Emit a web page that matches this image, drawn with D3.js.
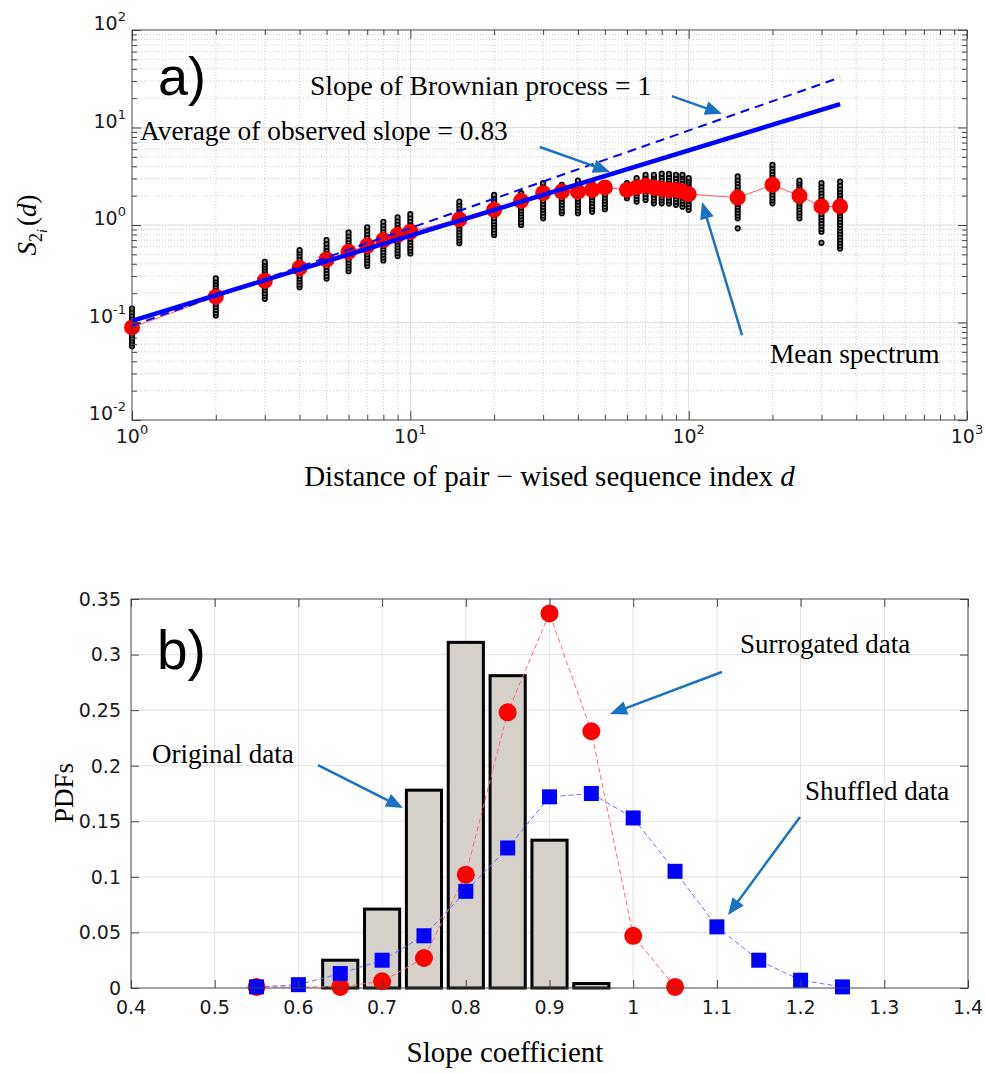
<!DOCTYPE html>
<html>
<head>
<meta charset="utf-8">
<script src="https://cdn.jsdelivr.net/npm/d3@7"></script>
<style>
body { margin: 0; background: #fff; }
</style>
</head>
<body>
<div id="chart"></div>
<script>
var width = 985,
    height = 1074;

// ---- panel a) structure function vs lag ----
var lags = [1, 2, 3, 4, 5, 6, 7, 8, 9, 10, 15, 20, 25, 30, 35, 40, 45, 50,
            60, 65, 70, 75, 80, 85, 90, 95, 100, 150, 200, 250, 300, 350];
var meanS2 = [0.089, 0.184, 0.268, 0.363, 0.443, 0.531, 0.612, 0.70, 0.79, 0.853, 1.14, 1.43,
              1.77, 2.12, 2.20, 2.20, 2.29, 2.43, 2.29, 2.43, 2.52, 2.43, 2.33, 2.29, 2.29, 2.2,
              2.07, 1.91, 2.58, 1.99, 1.55, 1.55];
// individual sequences, one column per lag
var samples = [
  [0.057,0.061,0.065,0.069,0.074,0.079,0.084,0.09,0.096,0.103,0.11,0.118,0.128,0.139],
  [0.118,0.126,0.135,0.145,0.155,0.166,0.178,0.19,0.204,0.218,0.234,0.25,0.266,0.284],
  [0.175,0.188,0.2,0.215,0.23,0.246,0.263,0.282,0.3,0.322,0.345,0.368,0.393,0.419],
  [0.23,0.246,0.264,0.282,0.302,0.323,0.346,0.37,0.396,0.424,0.454,0.486,0.52,0.552],
  [0.282,0.302,0.324,0.347,0.372,0.398,0.426,0.457,0.49,0.524,0.561,0.6,0.645,0.7],
  [0.336,0.36,0.386,0.413,0.443,0.475,0.508,0.545,0.584,0.625,0.67,0.72,0.775,0.84],
  [0.38,0.407,0.437,0.468,0.5,0.537,0.575,0.617,0.66,0.708,0.76,0.815,0.875,0.947],
  [0.433,0.464,0.497,0.533,0.571,0.612,0.656,0.703,0.753,0.807,0.865,0.93,1.0,1.08],
  [0.48,0.515,0.552,0.591,0.634,0.679,0.728,0.78,0.836,0.896,0.96,1.03,1.11,1.2],
  [0.51,0.547,0.586,0.628,0.673,0.721,0.773,0.828,0.888,0.951,1.02,1.1,1.19,1.29],
  [0.65,0.697,0.747,0.8,0.858,0.92,0.986,1.06,1.13,1.21,1.3,1.4,1.51,1.62,1.74],
  [0.79,0.84,0.9,0.965,1.03,1.1,1.18,1.27,1.36,1.46,1.56,1.67,1.78,1.9,2.04],
  [1.0,1.07,1.15,1.23,1.32,1.41,1.51,1.62,1.74,1.86,1.98,2.12],
  [1.17,1.25,1.34,1.44,1.54,1.65,1.77,1.9,2.04,2.18,2.34,2.5,2.69],
  [1.32,1.41,1.51,1.62,1.74,1.86,1.99,2.13,2.28,2.43,2.58],
  [1.32,1.41,1.51,1.62,1.74,1.86,1.99,2.13,2.28,2.45,2.63,2.86],
  [1.37,1.47,1.57,1.69,1.81,1.94,2.08,2.23,2.4,2.55,2.69],
  [1.45,1.55,1.66,1.78,1.91,2.05,2.2,2.34,2.48],
  [1.88,2.0,2.14,2.28,2.44,2.58,2.69],
  [1.74,1.86,1.99,2.13,2.28,2.45,2.63,2.82,3.03],
  [1.81,1.94,2.08,2.23,2.39,2.56,2.74,2.94,3.1,3.27],
  [1.67,1.79,1.92,2.06,2.21,2.37,2.54,2.72,2.92,3.1,3.27],
  [1.67,1.79,1.92,2.06,2.21,2.37,2.54,2.72,2.92,3.13,3.36],
  [1.66,1.78,1.91,2.05,2.2,2.36,2.53,2.71,2.91,3.12,3.35],
  [1.61,1.73,1.86,2.0,2.14,2.3,2.47,2.65,2.84,3.05,3.27],
  [1.54,1.66,1.78,1.91,2.05,2.2,2.36,2.53,2.72,2.92,3.1,3.27],
  [1.43,1.54,1.65,1.77,1.9,2.04,2.19,2.35,2.52,2.7,2.86,3.03],
  [0.925,1.17,1.25,1.34,1.44,1.54,1.65,1.77,1.9,2.04,2.18,2.34,2.5,2.69,2.9,3.15],
  [1.67,1.79,1.92,2.06,2.21,2.37,2.54,2.72,2.92,3.13,3.36,3.6,3.87,4.15],
  [1.17,1.26,1.35,1.45,1.56,1.67,1.79,1.92,2.06,2.21,2.38,2.56,2.7,2.86],
  [0.657,0.853,0.91,0.98,1.05,1.13,1.21,1.3,1.4,1.5,1.61,1.73,1.86,2.0,2.15,2.31,2.49,2.69],
  [0.575,0.617,0.662,0.71,0.762,0.818,0.878,0.942,1.01,1.08,1.16,1.25,1.34,1.44,1.55,1.66,
   1.78,1.91,2.05,2.2,2.36,2.55,2.79]
];
var brownLine = [[1, 0.093], [350, 32.6]];   // slope 1
var fitLine = [[1, 0.104], [350, 17.4]];     // observed average slope
var xTicksA = [1, 10, 100, 1000];
var yTicksA = [0.01, 0.1, 1, 10, 100];
var xExpA = ["0", "1", "2", "3"];
var yExpA = ["-2", "-1", "0", "1", "2"];

// ---- panel b) slope distributions ----
var binCenters = [0.65, 0.70, 0.75, 0.80, 0.85, 0.90, 0.95];
var origPdf = [0.025, 0.071, 0.178, 0.311, 0.281, 0.133, 0.004];
var surrX = [0.55, 0.65, 0.70, 0.75, 0.80, 0.85, 0.90, 0.95, 1.00, 1.05];
var surrPdf = [0.001, 0.001, 0.006, 0.027, 0.102, 0.248, 0.337, 0.231, 0.047, 0.001];
var shufX = [0.55, 0.60, 0.65, 0.70, 0.75, 0.80, 0.85, 0.90, 0.95, 1.00, 1.05, 1.10, 1.15, 1.20, 1.25];
var shufPdf = [0.001, 0.003, 0.013, 0.025, 0.047, 0.087, 0.126, 0.172, 0.175, 0.153, 0.105, 0.055,
               0.025, 0.007, 0.001];
var xTicksB = [0.4, 0.5, 0.6, 0.7, 0.8, 0.9, 1.0, 1.1, 1.2, 1.3, 1.4];
var xLabelsB = ["0.4", "0.5", "0.6", "0.7", "0.8", "0.9", "1", "1.1", "1.2", "1.3", "1.4"];
var yTicksB = [0, 0.05, 0.1, 0.15, 0.2, 0.25, 0.3, 0.35];
var yLabelsB = ["0", "0.05", "0.1", "0.15", "0.2", "0.25", "0.3", "0.35"];

var serif = "'Liberation Serif', 'Times New Roman', serif";
var sans = "'DejaVu Sans', sans-serif";
var arrowColor = "#1b72c2";
var frameColor = "#444";

var svg = d3.select("#chart").append("svg")
    .attr("width", width)
    .attr("height", height)
    .style("background", "#fff");

function arrow(g, x1, y1, x2, y2) {
  var dx = x2 - x1, dy = y2 - y1, len = Math.sqrt(dx * dx + dy * dy);
  var ux = dx / len, uy = dy / len;
  g.append("line")
    .attr("x1", x1).attr("y1", y1)
    .attr("x2", x2 - ux * 12).attr("y2", y2 - uy * 12)
    .attr("stroke", arrowColor).attr("stroke-width", 2.5);
  var bx = x2 - ux * 17, by = y2 - uy * 17;
  g.append("path")
    .attr("d", "M" + x2 + "," + y2 +
               "L" + (bx - uy * 7) + "," + (by + ux * 7) +
               "L" + (bx + uy * 7) + "," + (by - ux * 7) + "Z")
    .attr("fill", arrowColor);
}

function boxTicks(g, x, y, xv, yv, len) {
  var r = x.range(), t = y.range();
  var left = r[0], right = r[1], bottom = t[0], top = t[1];
  var ax = [
    [d3.axisBottom(x), "translate(0," + bottom + ")", xv],
    [d3.axisTop(x), "translate(0," + top + ")", xv],
    [d3.axisLeft(y), "translate(" + left + ",0)", yv],
    [d3.axisRight(y), "translate(" + right + ",0)", yv]
  ];
  ax.forEach(function(a) {
    var gg = g.append("g").attr("transform", a[1])
      .call(a[0].tickValues(a[2]).tickSize(-len).tickSizeOuter(0).tickFormat(""));
    gg.select(".domain").remove();
    gg.selectAll(".tick line").attr("stroke", frameColor);
    gg.selectAll(".tick text").remove();
  });
}

// ================= panel a =================
var xA = d3.scaleLog().domain([1, 1000]).range([132, 967]);
var yA = d3.scaleLog().domain([0.01, 100]).range([420, 30]);

var ga = svg.append("g");

var xMinorA = [], yMinorA = [];
[1, 10, 100].forEach(function(k) { for (var m = 2; m <= 9; m++) xMinorA.push(m * k); });
[0.01, 0.1, 1, 10].forEach(function(k) { for (var m = 2; m <= 9; m++) yMinorA.push(m * k); });

var grid = ga.append("g");
grid.selectAll(".vminor").data(xMinorA).enter().append("line")
  .attr("x1", function(d) { return xA(d); }).attr("x2", function(d) { return xA(d); })
  .attr("y1", 30).attr("y2", 420)
  .attr("stroke", "#cfcfcf").attr("stroke-dasharray", "1,2");
grid.selectAll(".hminor").data(yMinorA).enter().append("line")
  .attr("y1", function(d) { return yA(d); }).attr("y2", function(d) { return yA(d); })
  .attr("x1", 132).attr("x2", 967)
  .attr("stroke", "#cfcfcf").attr("stroke-dasharray", "1,2");
grid.selectAll(".vmajor").data([10, 100]).enter().append("line")
  .attr("x1", function(d) { return xA(d); }).attr("x2", function(d) { return xA(d); })
  .attr("y1", 30).attr("y2", 420)
  .attr("stroke", "#dedede");
grid.selectAll(".hmajor").data([0.1, 1, 10]).enter().append("line")
  .attr("y1", function(d) { return yA(d); }).attr("y2", function(d) { return yA(d); })
  .attr("x1", 132).attr("x2", 967)
  .attr("stroke", "#dedede");

// sample dots
var cols = ga.append("g").selectAll("g").data(samples).enter().append("g");
cols.selectAll("circle")
  .data(function(d, i) { return d.map(function(v) { return [lags[i], v]; }); })
  .enter().append("circle")
  .attr("cx", function(d) { return xA(d[0]); })
  .attr("cy", function(d) { return yA(d[1]); })
  .attr("r", 2.3)
  .attr("fill", "#8a8a8a")
  .attr("stroke", "#000")
  .attr("stroke-width", 1.6);

// mean spectrum
var meanPts = lags.map(function(d, i) { return [d, meanS2[i]]; });
var lineA = d3.line().x(function(d) { return xA(d[0]); }).y(function(d) { return yA(d[1]); });
ga.append("path").datum(meanPts)
  .attr("d", lineA).attr("fill", "none")
  .attr("stroke", "#ff5555").attr("stroke-width", 1);
ga.append("g").selectAll("circle").data(meanPts).enter().append("circle")
  .attr("cx", function(d) { return xA(d[0]); })
  .attr("cy", function(d) { return yA(d[1]); })
  .attr("r", 8)
  .attr("fill", "#ff0000");

// reference lines
ga.append("path").datum(brownLine)
  .attr("d", lineA).attr("fill", "none")
  .attr("stroke", "#0000ff").attr("stroke-width", 2)
  .attr("stroke-dasharray", "9,6");
ga.append("path").datum(fitLine)
  .attr("d", lineA).attr("fill", "none")
  .attr("stroke", "#0000ff").attr("stroke-width", 4.5);

// frame and ticks
boxTicks(ga, xA, yA, xMinorA, yMinorA, 5);
boxTicks(ga, xA, yA, xTicksA, yTicksA, 9);
ga.append("rect").attr("x", 132).attr("y", 30).attr("width", 835).attr("height", 390)
  .attr("fill", "none").attr("stroke", frameColor).attr("stroke-width", 1);

// tick labels with exponents
var xl = ga.append("g").selectAll("text").data(xTicksA).enter().append("text")
  .attr("x", function(d) { return xA(d); })
  .attr("y", 443)
  .attr("text-anchor", "middle")
  .style("font-family", sans).style("font-size", "19px").attr("fill", "#1a1a1a");
xl.append("tspan").text("10");
xl.append("tspan").attr("dy", -9).style("font-size", "13px").text(function(d, i) { return xExpA[i]; });

var yl = ga.append("g").selectAll("text").data(yTicksA).enter().append("text")
  .attr("x", 126)
  .attr("y", function(d) { return yA(d); })
  .attr("text-anchor", "end")
  .style("font-family", sans).style("font-size", "19px").attr("fill", "#1a1a1a");
yl.append("tspan").text("10");
yl.append("tspan").attr("dy", -9).style("font-size", "13px").text(function(d, i) { return yExpA[i]; });

// axis labels
var xlab = svg.append("text")
  .attr("x", 549.5).attr("y", 486)
  .attr("text-anchor", "middle")
  .style("font-family", serif).style("font-size", "29px");
xlab.append("tspan").text("Distance of pair \u2212 wised sequence index ");
xlab.append("tspan").style("font-style", "italic").text("d");

var ylab = svg.append("text")
  .attr("transform", "translate(36,225) rotate(-90)")
  .attr("text-anchor", "middle")
  .style("font-family", serif).style("font-size", "27px");
ylab.append("tspan").style("font-style", "italic").text("S");
ylab.append("tspan").attr("dy", 6).style("font-size", "18px").text("2");
ylab.append("tspan").attr("dy", 5).style("font-size", "14px").style("font-style", "italic").text("i");
ylab.append("tspan").attr("dy", -11).attr("dx", 3).text("(");
ylab.append("tspan").style("font-style", "italic").text("d");
ylab.append("tspan").text(")");

// annotations
ga.append("text").attr("x", xA(1.24)).attr("y", yA(21.5))
  .style("font-family", "'Liberation Sans', Arial, sans-serif").style("font-size", "54px")
  .text("a)");
ga.append("text").attr("x", xA(4.36)).attr("y", yA(21.5))
  .style("font-family", serif).style("font-size", "27.6px")
  .text("Slope of Brownian process = 1");
ga.append("text").attr("x", xA(1.068)).attr("y", yA(7.44))
  .style("font-family", serif).style("font-size", "27.4px")
  .text("Average of observed slope = 0.83");
ga.append("text").attr("x", xA(196)).attr("y", yA(0.0384))
  .style("font-family", serif).style("font-size", "27.4px")
  .text("Mean spectrum");
arrow(ga, xA(87.1), yA(21.0), xA(131.8), yA(13.8));
arrow(ga, xA(29.2), yA(6.31), xA(52.2), yA(3.5));
arrow(ga, xA(155.5), yA(0.0744), xA(111.7), yA(1.72));

// ================= panel b =================
var xB = d3.scaleLinear().domain([0.4, 1.4]).range([131, 968]);
var yB = d3.scaleLinear().domain([0, 0.35]).range([988, 599]);

var gb = svg.append("g");
gb.append("g").selectAll("line").data(xTicksB.slice(1, -1)).enter().append("line")
  .attr("x1", function(d) { return xB(d); }).attr("x2", function(d) { return xB(d); })
  .attr("y1", 599).attr("y2", 988)
  .attr("stroke", "#e2e2e2");
gb.append("g").selectAll("line").data(yTicksB.slice(1, -1)).enter().append("line")
  .attr("y1", function(d) { return yB(d); }).attr("y2", function(d) { return yB(d); })
  .attr("x1", 131).attr("x2", 968)
  .attr("stroke", "#e2e2e2");

// histogram of original data
var barW = 0.042;
gb.append("g").selectAll("rect").data(binCenters).enter().append("rect")
  .attr("x", function(d) { return xB(d - barW / 2); })
  .attr("width", function(d) { return xB(d + barW / 2) - xB(d - barW / 2); })
  .attr("y", function(d, i) { return yB(origPdf[i]); })
  .attr("height", function(d, i) { return yB(0) - yB(origPdf[i]); })
  .attr("fill", "#d6d0ca")
  .attr("stroke", "#000")
  .attr("stroke-width", 3);

var lineB = d3.line().x(function(d) { return xB(d[0]); }).y(function(d) { return yB(d[1]); });
var surrPts = surrX.map(function(d, i) { return [d, surrPdf[i]]; });
var shufPts = shufX.map(function(d, i) { return [d, shufPdf[i]]; });

gb.append("path").datum(surrPts).attr("d", lineB).attr("fill", "none")
  .attr("stroke", "#ff6a6a").attr("stroke-width", 1).attr("stroke-dasharray", "5,3");
gb.append("path").datum(shufPts).attr("d", lineB).attr("fill", "none")
  .attr("stroke", "#7070ff").attr("stroke-width", 1).attr("stroke-dasharray", "5,3");
gb.append("g").selectAll("circle").data(surrPts).enter().append("circle")
  .attr("cx", function(d) { return xB(d[0]); })
  .attr("cy", function(d) { return yB(d[1]); })
  .attr("r", 9)
  .attr("fill", "#ff0000");
gb.append("g").selectAll("rect").data(shufPts).enter().append("rect")
  .attr("x", function(d) { return xB(d[0]) - 7.5; })
  .attr("y", function(d) { return yB(d[1]) - 7.5; })
  .attr("width", 15).attr("height", 15)
  .attr("fill", "#0000ff");

boxTicks(gb, xB, yB, xTicksB, yTicksB, 8);
gb.append("rect").attr("x", 131).attr("y", 599).attr("width", 837).attr("height", 389)
  .attr("fill", "none").attr("stroke", frameColor).attr("stroke-width", 1);

gb.append("g").selectAll("text").data(xTicksB).enter().append("text")
  .attr("x", function(d) { return xB(d); })
  .attr("y", 1014)
  .attr("text-anchor", "middle")
  .style("font-family", sans).style("font-size", "19px").attr("fill", "#1a1a1a")
  .text(function(d, i) { return xLabelsB[i]; });
gb.append("g").selectAll("text").data(yTicksB).enter().append("text")
  .attr("x", 121)
  .attr("y", function(d) { return yB(d); })
  .attr("dy", "0.36em")
  .attr("text-anchor", "end")
  .style("font-family", sans).style("font-size", "19px").attr("fill", "#1a1a1a")
  .text(function(d, i) { return yLabelsB[i]; });

svg.append("text").attr("x", 505).attr("y", 1062)
  .attr("text-anchor", "middle")
  .style("font-family", serif).style("font-size", "29px")
  .text("Slope coefficient");
svg.append("text").attr("transform", "translate(73,793) rotate(-90)")
  .attr("text-anchor", "middle")
  .style("font-family", serif).style("font-size", "27px")
  .text("PDFs");

gb.append("text").attr("x", xB(0.431)).attr("y", yB(0.287))
  .style("font-family", "'Liberation Sans', Arial, sans-serif").style("font-size", "55px")
  .text("b)");
gb.append("text").attr("x", xB(0.425)).attr("y", yB(0.2024))
  .style("font-family", serif).style("font-size", "27px")
  .text("Original data");
gb.append("text").attr("x", xB(1.1276)).attr("y", yB(0.3014))
  .style("font-family", serif).style("font-size", "27px")
  .text("Surrogated data");
gb.append("text").attr("x", xB(1.2053)).attr("y", yB(0.169))
  .style("font-family", serif).style("font-size", "27px")
  .text("Shuffled data");
arrow(gb, xB(0.6234), yB(0.2006), xB(0.725), yB(0.162));
arrow(gb, xB(1.106), yB(0.2843), xB(0.9723), yB(0.2465));
arrow(gb, xB(1.1993), yB(0.1539), xB(1.1133), yB(0.0657));
</script>
</body>
</html>
